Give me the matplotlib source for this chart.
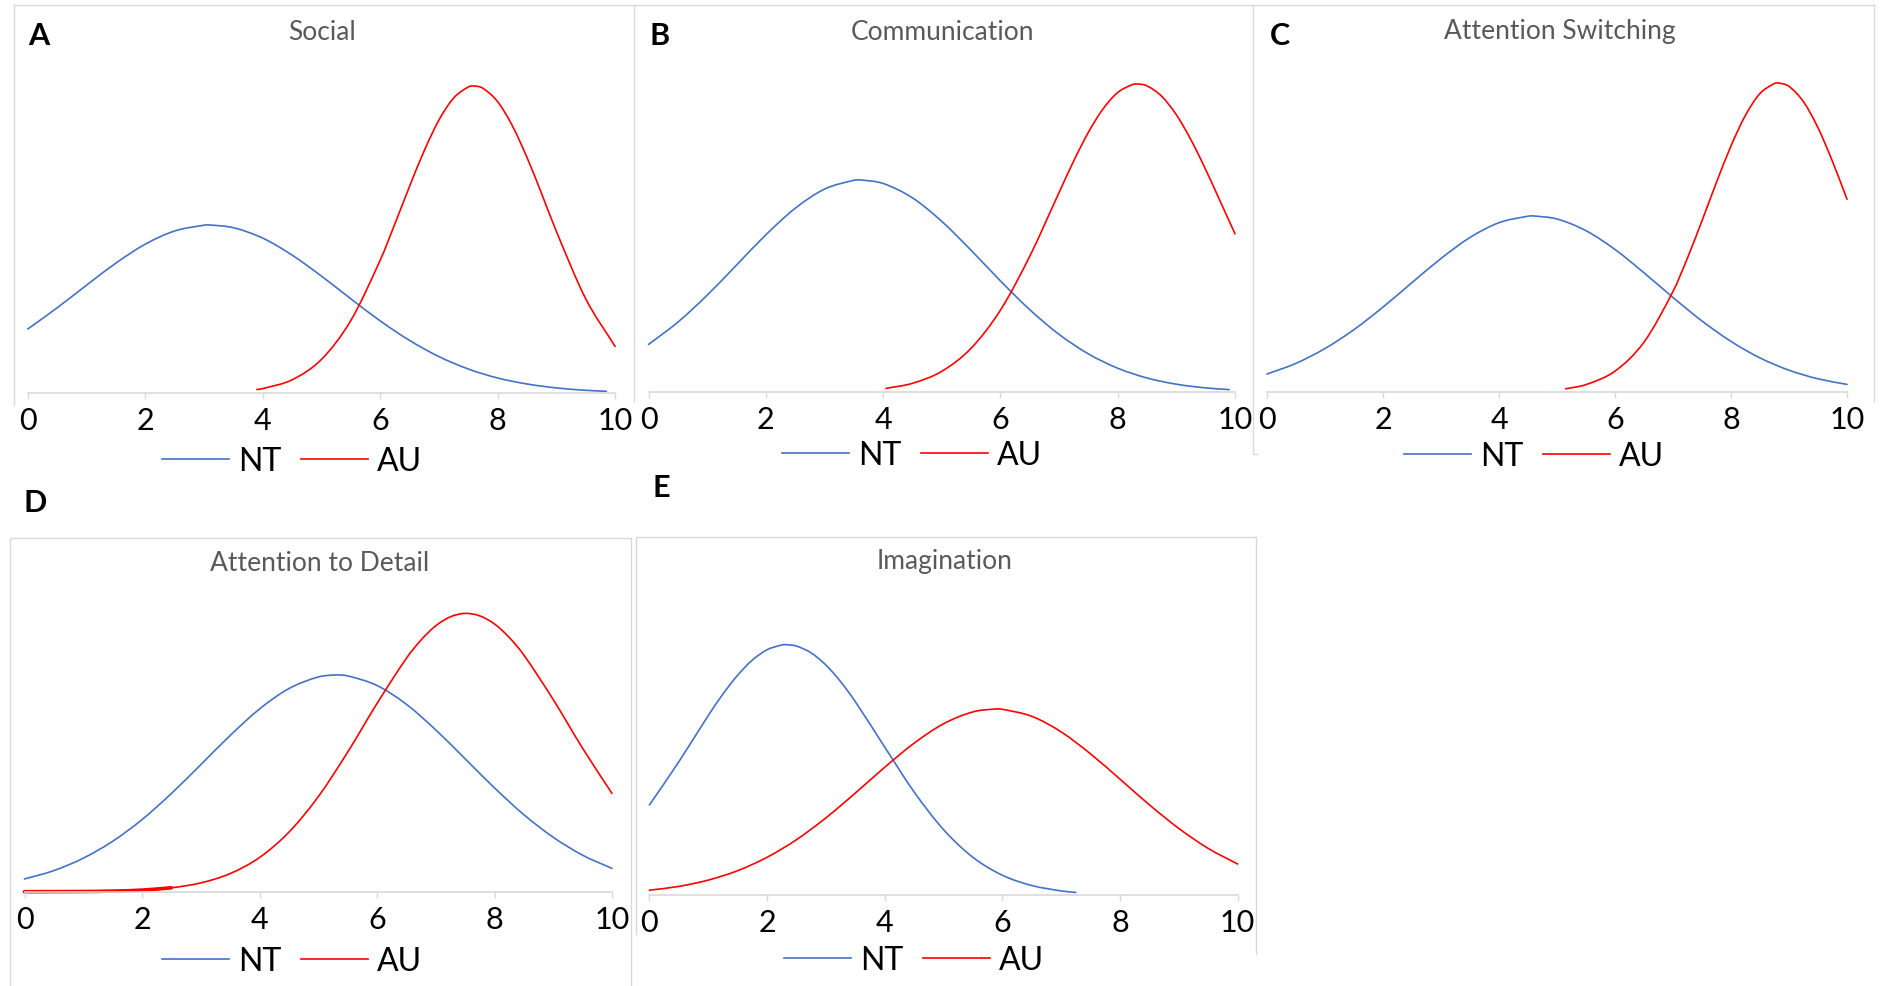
import matplotlib
matplotlib.use("Agg")
import matplotlib.pyplot as plt
from matplotlib.lines import Line2D
from matplotlib.path import Path
from matplotlib.patches import PathPatch

plt.rcParams['font.family'] = ['Lato', 'DejaVu Sans']

# values (y = curve height, arbitrary units)
a_nt_x = [0, 0.5, 1, 1.5, 2, 2.5, 3, 3.1, 3.5, 4, 4.5, 5, 5.5, 6, 6.5, 7, 7.5, 8, 8.5, 9, 9.5, 9.85]
a_nt = [64.0, 85.2, 107.8, 129.9, 148.8, 162.0, 167.8, 168.0, 165.3, 154.9, 137.9, 116.9, 94.2, 72.1,
        52.6, 36.4, 24.0, 15.0, 9.0, 5.1, 2.7, 1.7]
a_au_x = [3.9, 4, 4.5, 5, 5.5, 6, 6.25, 6.5, 6.75, 7, 7.25, 7.5, 7.6, 7.75, 8, 8.25, 8.5, 8.75, 9, 9.5, 10]
a_au = [3.5, 4.4, 13.2, 33.6, 72.5, 132.8, 169.1, 206.6, 242.3, 272.9, 294.9, 306.0, 307.0, 304.7,
        291.3, 267.3, 235.5, 199.2, 161.6, 94.2, 46.6]

b_nt_x = [0, 0.5, 1, 1.5, 2, 2.5, 3, 3.5, 3.62, 4, 4.5, 5, 5.5, 6, 6.5, 7, 7.5, 8, 8.5, 9, 9.5, 9.9]
b_nt = [47.6, 69.9, 96.9, 127.0, 157.2, 183.7, 202.9, 211.7, 212.0, 208.5, 194.1, 170.6, 141.7, 111.1,
        82.3, 57.6, 38.1, 23.8, 14.0, 7.8, 4.1, 2.4]
b_au_x = [4.05, 4.5, 5, 5.5, 6, 6.5, 7, 7.25, 7.5, 7.75, 8, 8.25, 8.34, 8.5, 8.75, 9, 9.25, 9.5, 9.75, 10]
b_au = [3.6, 8.7, 20.7, 43.8, 81.9, 135.8, 199.5, 231.1, 259.7, 283.1, 299.5, 307.4, 308.0, 306.1,
        295.7, 277.2, 252.1, 222.4, 190.4, 158.2]

c_nt_x = [0, 0.5, 1, 1.5, 2, 2.5, 3, 3.5, 4, 4.5, 4.6, 5, 5.5, 6, 6.5, 7, 7.5, 8, 8.5, 9, 9.5, 10]
c_nt = [17.9, 28.7, 43.5, 62.4, 84.9, 109.4, 133.5, 154.5, 169.3, 175.8, 176.0, 173.0, 161.3, 142.5,
        119.2, 94.5, 71.0, 50.6, 34.1, 21.8, 13.2, 7.6]
c_au_x = [5.15, 5.5, 6, 6.5, 7, 7.25, 7.5, 7.75, 8, 8.25, 8.5, 8.75, 8.82, 9, 9.25, 9.5, 9.75, 10]
c_au = [3.2, 7.4, 20.9, 49.9, 100.6, 134.1, 171.3, 209.7, 246.1, 276.8, 298.5, 308.5, 309.0, 305.6,
        290.2, 264.2, 230.5, 192.8]

d_nt_x = [0, 0.5, 1, 1.5, 2, 2.5, 3, 3.5, 4, 4.5, 5, 5.3, 5.5, 6, 6.5, 7, 7.5, 8, 8.5, 9, 9.5, 10]
d_nt = [12.7, 21.1, 33.5, 50.4, 72.1, 98.2, 127.0, 156.2, 182.7, 203.1, 214.7, 216.7, 215.8, 206.2,
        187.4, 161.8, 132.9, 103.8, 77.0, 54.4, 36.5, 23.3]
d_au_x = [0, 0.5, 1, 1.5, 2, 2.5, 3, 3.5, 4, 4.5, 5, 5.5, 6, 6.5, 6.75, 7, 7.25, 7.5, 7.75, 8, 8.25,
          8.5, 9, 9.5, 10]
d_au = [0.0, 0.1, 0.2, 0.6, 1.6, 3.9, 8.8, 18.1, 34.2, 59.5, 95.0, 139.5, 188.2, 233.4, 251.7, 265.9,
        274.9, 278.3, 275.8, 267.7, 254.3, 236.6, 192.1, 143.4, 98.3]

e_nt_x = [0, 0.5, 1, 1.25, 1.5, 1.75, 2, 2.25, 2.33, 2.5, 2.75, 3, 3.25, 3.5, 4, 4.5, 5, 5.5, 6, 6.5, 7, 7.25]
e_nt = [90.0, 133.2, 179.4, 200.9, 219.8, 234.9, 245.2, 250.0, 250.3, 248.9, 242.1, 230.0, 213.4, 193.4,
        148.0, 103.1, 65.4, 37.7, 19.8, 9.5, 4.1, 2.6]
e_au_x = [0, 0.5, 1, 1.5, 2, 2.5, 3, 3.5, 4, 4.5, 5, 5.5, 5.885, 6, 6.5, 7, 7.5, 8, 8.5, 9, 9.5, 10]
e_au = [4.8, 8.6, 14.9, 24.3, 37.7, 55.3, 77.1, 101.9, 127.7, 151.8, 171.2, 183.1, 186.0, 185.7, 178.7,
        163.1, 141.1, 115.9, 90.2, 66.6, 46.6, 31.0]

titles = ['Social', 'Communication', 'Attention Switching', 'Attention to Detail', 'Imagination']
letters = ['A', 'B', 'C', 'D', 'E']
series_names = ['NT', 'AU']
xticks = [0, 2, 4, 6, 8, 10]

BLUE = '#4472C4'
RED = '#FF0000'
GRID = '#d9d9d9'

W, H = 1889, 987
fig = plt.figure(figsize=(W / 100, H / 100), dpi=100)


def fx(px):
    return px / W


def fy(py):
    return 1 - py / H


def frame_line(xs, ys):
    fig.add_artist(Line2D([fx(v) for v in xs], [fy(v) for v in ys],
                          transform=fig.transFigure, color=GRID, lw=1))


def smooth_line(ax, xs, ys, color, lw):
    # Excel-style smoothed line: cubic segments through the read points
    n = len(xs)
    slopes = []
    for i in range(n):
        j0, j1 = max(i - 1, 0), min(i + 1, n - 1)
        slopes.append((ys[j1] - ys[j0]) / (xs[j1] - xs[j0]))
    verts = [(xs[0], ys[0])]
    codes = [Path.MOVETO]
    for i in range(n - 1):
        h = xs[i + 1] - xs[i]
        verts += [(xs[i] + h / 3, ys[i] + slopes[i] * h / 3),
                  (xs[i + 1] - h / 3, ys[i + 1] - slopes[i + 1] * h / 3),
                  (xs[i + 1], ys[i + 1])]
        codes += [Path.CURVE4] * 3
    ax.add_patch(PathPatch(Path(verts, codes), fill=False, edgecolor=color, lw=lw,
                           capstyle='round', clip_on=False))


# light gray chart borders (cropped Excel charts)
frame_line([13.5, 1874], [6, 6])
frame_line([13.5, 13.5], [6, 406])
frame_line([634, 634], [6, 402])
frame_line([1257, 1253, 1253], [455, 455, 6])
frame_line([1874, 1874], [6, 402])
frame_line([10, 10, 631, 631], [987, 539, 539, 987])
frame_line([636, 636, 1256, 1256], [935, 538, 538, 955])

# per panel: axis x0 px, x10 px, baseline px, title pos, letter pos, legend pos
panels = [
    (27.8, 615.1, 394, (322, 32), (39, 36), (292, 462), a_nt_x, a_nt, a_au_x, a_au),
    (648.6, 1235.0, 393, (942, 32), (660, 36), (912, 456), b_nt_x, b_nt, b_au_x, b_au),
    (1267.0, 1847.0, 393, (1560, 32), (1280, 36), (1534, 457), c_nt_x, c_nt, c_au_x, c_au),
    (24.5, 612.0, 892.7, (320, 564), (35, 503), (292, 962), d_nt_x, d_nt, d_au_x, d_au),
    (649.4, 1237.6, 896, (945, 562), (661, 488), (914, 961), e_nt_x, e_nt, e_au_x, e_au),
]

for i, (x0, x10, base, tpos, lpos, legpos, ntx, nty, aux, auy) in enumerate(panels):
    ax = fig.add_axes([fx(x0), fy(base), (x10 - x0) / W, 360 / H])
    ax.set_xlim(0, 10)
    ax.set_ylim(0, 360)
    ax.patch.set_alpha(0)
    for s in ['top', 'right', 'left']:
        ax.spines[s].set_visible(False)
    ax.spines['bottom'].set_color(GRID)
    ax.spines['bottom'].set_linewidth(1.2)
    ax.set_yticks([])
    ax.set_xticks(xticks)
    ax.tick_params(axis='x', length=4.5, width=1, color=GRID, labelsize=22, pad=5, labelcolor='black')

    smooth_line(ax, ntx, nty, BLUE, 1.2)
    smooth_line(ax, aux, auy, RED, 1.2)
    if i == 3:
        # low tail of the AU curve is drawn heavier in the reference
        smooth_line(ax, aux[:6], auy[:6], RED, 2.6)

    handles = [Line2D([], [], color=BLUE, lw=1.2), Line2D([], [], color=RED, lw=1.2)]
    ax.legend(handles, series_names, loc='center', bbox_to_anchor=(fx(legpos[0]), fy(legpos[1])),
              bbox_transform=fig.transFigure, ncol=2, frameon=False, fontsize=23,
              handlelength=2.1, handletextpad=0.3, columnspacing=0.6, borderpad=0, borderaxespad=0)

    fig.text(fx(tpos[0]), fy(tpos[1]), titles[i], ha='center', va='center', fontsize=19, color='#595959')
    fig.text(fx(lpos[0]), fy(lpos[1]), letters[i], ha='center', va='center', fontsize=22,
             fontweight='bold', color='black')

fig.savefig('out.png', dpi=100, facecolor='white')
